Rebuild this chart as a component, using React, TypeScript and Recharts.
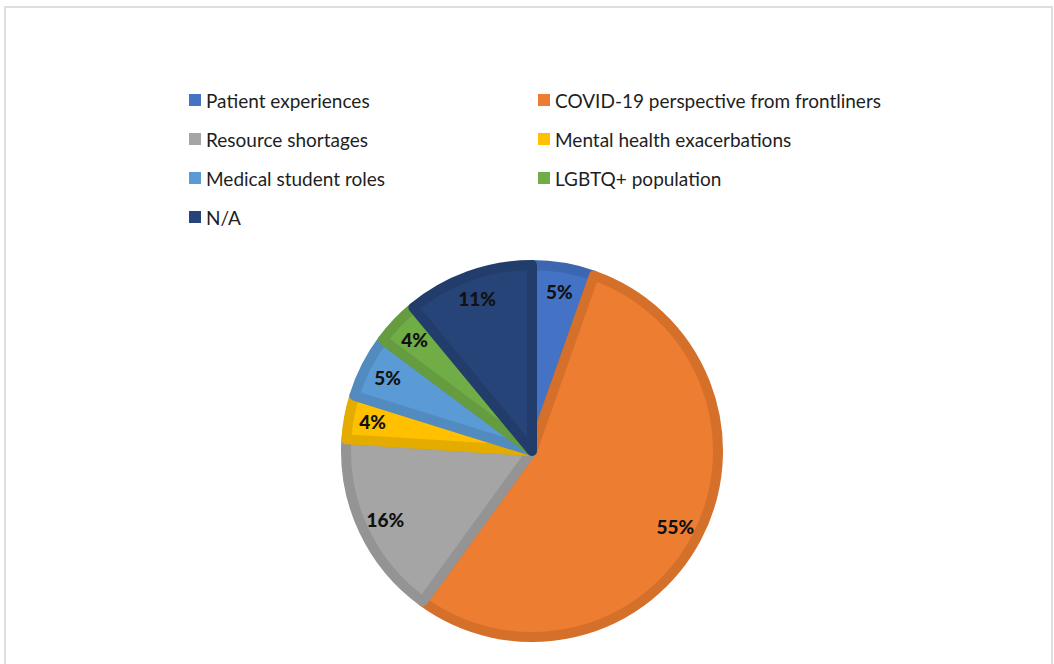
import React from "react";
import { PieChart, Pie, Cell } from "recharts";

const categories = [
  "Patient experiences",
  "COVID-19 perspective from frontliners",
  "Resource shortages",
  "Mental health exacerbations",
  "Medical student roles",
  "LGBTQ+ population",
  "N/A",
];
const shares = [5.4, 54.6, 16.0, 3.8, 5.4, 3.8, 11.0];
const fills = ["#4472C4", "#ED7D31", "#A5A5A5", "#FFC000", "#5B9BD5", "#70AD47", "#264478"];
const edges = ["#3D66B0", "#D5702B", "#949494", "#E5AC00", "#528BBF", "#659C40", "#223D6B"];

const data = categories.map((name, i) => ({ name, value: shares[i] }));

const RAD = Math.PI / 180;
const FONT = "Lato, 'Noto Sans', sans-serif";

const renderLabel = (props: any) => {
  const { cx, cy, midAngle, percent } = props;
  const r = 162;
  const x = cx + r * Math.cos(-midAngle * RAD);
  const y = cy + r * Math.sin(-midAngle * RAD);
  return (
    <text
      x={x}
      y={y}
      fill="#111"
      textAnchor="middle"
      dominantBaseline="central"
      fontFamily={FONT}
      fontWeight={900}
      fontSize={19}
    >
      {`${Math.round(percent * 100)}%`}
    </text>
  );
};

const LegendGrid = () => (
  <div
    style={{
      position: "absolute",
      left: 189,
      top: 80.5,
      display: "grid",
      gridTemplateColumns: "349px 380px",
      fontFamily: FONT,
      fontSize: 19,
      color: "#1e1e1e",
    }}
  >
    {categories.map((name, i) => (
      <div key={name} style={{ display: "flex", alignItems: "center", height: 39 }}>
        <span
          style={{
            display: "inline-block",
            width: 12,
            height: 12,
            background: fills[i],
            marginRight: 5,
          }}
        />
        <span>{name}</span>
      </div>
    ))}
  </div>
);

export default function App() {
  return (
    <div style={{ position: "absolute", left: 0, top: 0, width: 1054, height: 664, background: "#fff", overflow: "hidden" }}>
      <div
        style={{
          position: "absolute",
          left: 4,
          top: 6,
          width: 1045,
          height: 700,
          border: "2px solid #dedede",
        }}
      />
      <div style={{ position: "absolute", left: 0, top: 0 }}>
        <PieChart width={1054} height={664} margin={{ top: 0, right: 0, bottom: 0, left: 0 }}>
          <Pie
            data={data}
            dataKey="value"
            nameKey="name"
            cx={532}
            cy={451}
            outerRadius={186}
            startAngle={90}
            endAngle={-270}
            strokeWidth={10}
            strokeLinejoin="round"
            label={renderLabel}
            labelLine={false}
            isAnimationActive={false}
          >
            {data.map((d, i) => (
              <Cell key={d.name} fill={fills[i]} stroke={edges[i]} />
            ))}
          </Pie>
        </PieChart>
      </div>
      <LegendGrid />
    </div>
  );
}
